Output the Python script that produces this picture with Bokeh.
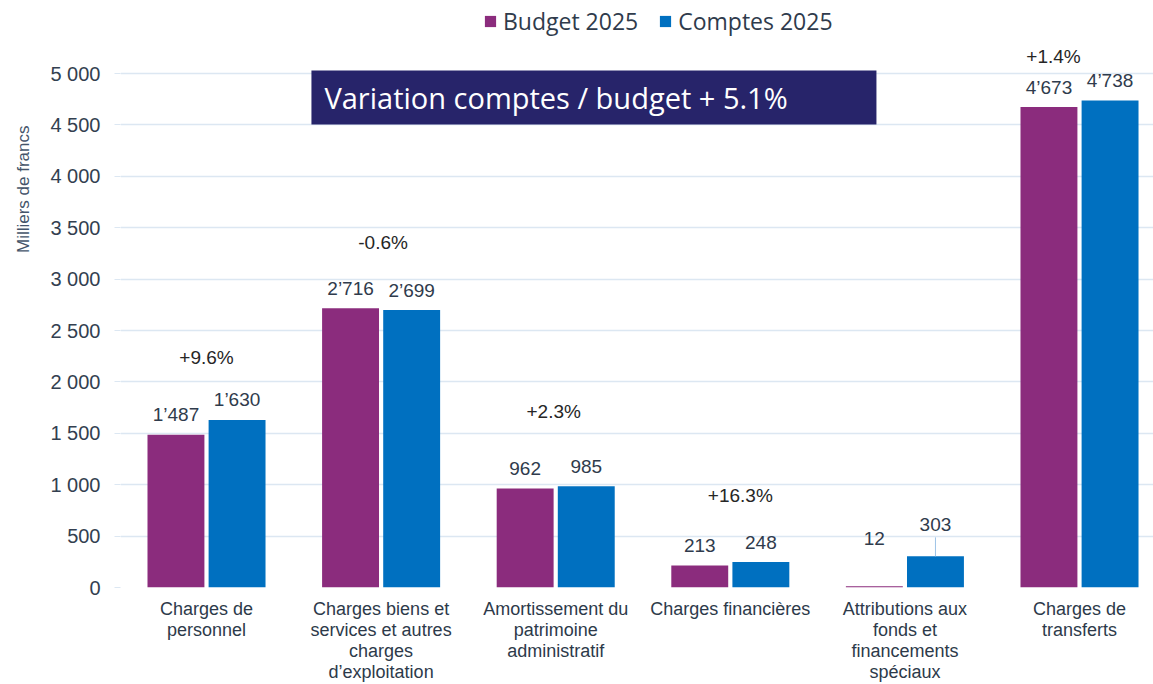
from bokeh.plotting import figure
from bokeh.models import (FixedTicker, Legend, LegendItem, BoxAnnotation, Label,
                          ColumnDataSource, Range1d, Title)
from bokeh.embed import file_html
from bokeh.resources import INLINE
from bokeh.core.properties import value

# ---------------- data ----------------
categories = [
    "Charges de\npersonnel",
    "Charges biens et\nservices et autres\ncharges\nd\u2019exploitation",
    "Amortissement du\npatrimoine\nadministratif",
    "Charges financi\u00e8res",
    "Attributions aux\nfonds et\nfinancements\nsp\u00e9ciaux",
    "Charges de\ntransferts",
]
budget = [1487, 2716, 962, 213, 12, 4673]
comptes = [1630, 2699, 985, 248, 303, 4738]
variations = ["+9.6%", "-0.6%", "+2.3%", "+16.3%", "", "+1.4%"]
series_names = ["Budget 2025", "Comptes 2025"]
y_ticks = [0, 500, 1000, 1500, 2000, 2500, 3000, 3500, 4000, 4500, 5000]
y_tick_labels = ["0", "500", "1 000", "1 500", "2 000", "2 500", "3 000",
                 "3 500", "4 000", "4 500", "5 000"]
title_text = "Variation comptes / budget + 5.1%"
axis_title = "Milliers de francs"

# ---------------- styles / layout ----------------
PURPLE = "#8B2C7D"
BLUE = "#0070C0"
NAVY = "#27246A"
TXT = "#2F3B4C"
GRID = "#DCE7F2"

LEFT, BOTTOM = 120, 97
FRAME_W, FRAME_H = 1033, 587
PX_PER_UNIT = 514 / 5000.0
Y_END = FRAME_H / PX_PER_UNIT
X_START = -0.4926
X_END = X_START + FRAME_W / 174.6
BAR_W = 0.326
OFF = 0.175

idx = list(range(len(categories)))
xb = [i - OFF for i in idx]
xc = [i + OFF for i in idx]

def fmt(v):
    return f"{v:,}".replace(",", "\u2019")

p = figure(frame_width=FRAME_W, frame_height=FRAME_H, output_backend="svg",
           toolbar_location=None,
           x_range=Range1d(X_START, X_END), y_range=Range1d(0, Y_END),
           min_border_left=LEFT, min_border_right=0, min_border_top=0,
           min_border_bottom=BOTTOM)
p.outline_line_color = None
p.background_fill_color = "white"
p.border_fill_color = "white"

rb = p.vbar(x=xb, top=budget, width=BAR_W, fill_color=PURPLE, line_color=None)
rc = p.vbar(x=xc, top=comptes, width=BAR_W, fill_color=BLUE, line_color=None)

# value labels (pixel offsets above the bar tops)
lab_off_b = [-20, -20, -20, -20, -48, -20]
lab_off_c = [-20, -20, -20, -20, -32, -20]
src_b = ColumnDataSource(dict(x=xb, y=budget, t=[fmt(v) for v in budget], dy=lab_off_b))
src_c = ColumnDataSource(dict(x=xc, y=comptes, t=[fmt(v) for v in comptes], dy=lab_off_c))
for s in (src_b, src_c):
    p.text(x="x", y="y", text="t", y_offset="dy", source=s, text_align="center",
           text_baseline="middle", text_font=value("Liberation Sans"),
           text_font_size="19px", text_color=TXT)

# leader line for the small "Attributions" comptes bar
lead_px = 19
p.segment(x0=[xc[4]], y0=[comptes[4]], x1=[xc[4]],
          y1=[comptes[4] + lead_px / PX_PER_UNIT], line_color="#9DC3E6", line_width=1)

# variation labels
pct_dx = [0, 2, -2, 10, 0, -26]
pct_dy = [-62, -66, -75, -67, 0, -44]
pct_src = ColumnDataSource(dict(
    x=[i for i in idx if variations[i]],
    y=[max(budget[i], comptes[i]) for i in idx if variations[i]],
    t=[variations[i] for i in idx if variations[i]],
    dx=[pct_dx[i] for i in idx if variations[i]],
    dy=[pct_dy[i] for i in idx if variations[i]],
))
p.text(x="x", y="y", text="t", x_offset="dx", y_offset="dy", source=pct_src,
       text_align="center", text_baseline="middle",
       text_font=value("Liberation Sans"), text_font_size="19px", text_color="#262626")

# title box
box_l, box_r, box_b, box_t = 0.601, 3.837, 4504, 5029
p.add_layout(BoxAnnotation(left=box_l, right=box_r, bottom=box_b, top=box_t,
                           fill_color=NAVY, fill_alpha=1.0, line_color=None,
                           level="overlay"))
p.add_layout(Label(x=box_l, y=(box_b + box_t) / 2, x_offset=13, text=title_text,
                   text_color="white", text_font="Open Sans", text_font_size="29px",
                   text_baseline="middle", text_align="left", level="overlay"))

# axes
p.yaxis.ticker = FixedTicker(ticks=y_ticks)
p.yaxis.major_label_overrides = {t: l for t, l in zip(y_ticks, y_tick_labels)}
p.yaxis.axis_line_color = None
p.yaxis.major_tick_out = 6
p.yaxis.major_tick_in = 0
p.yaxis.major_tick_line_color = GRID
p.yaxis.minor_tick_line_color = None
p.yaxis.major_label_standoff = 14
p.yaxis.major_label_text_font = "Liberation Sans"
p.yaxis.major_label_text_font_size = "20px"
p.yaxis.major_label_text_color = "#333F50"

# y-axis title in the left panel
p.add_layout(Title(text=axis_title, align="right", offset=125, standoff=26,
                   vertical_align="top",
                   text_font="Liberation Sans", text_font_size="17px",
                   text_font_style="normal", text_color="#44546A"), "left")

p.xaxis.ticker = FixedTicker(ticks=idx)
p.xaxis.major_label_overrides = {i: c for i, c in zip(idx, categories)}
p.xaxis.axis_line_color = None
p.xaxis.major_tick_line_color = None
p.xaxis.minor_tick_line_color = None
p.xaxis.major_label_standoff = 5
p.xaxis.major_label_text_font = "Liberation Sans"
p.xaxis.major_label_text_font_size = "18px"
p.xaxis.major_label_text_line_height = 1.05
p.xaxis.major_label_text_color = "#2D3A4A"
p.xaxis.major_label_text_align = "center"

p.xgrid.grid_line_color = None
p.ygrid.ticker = FixedTicker(ticks=y_ticks)
p.ygrid.grid_line_color = GRID
p.ygrid.grid_line_width = 1.5

legend = Legend(items=[LegendItem(label=series_names[0], renderers=[rb]),
                       LegendItem(label=series_names[1], renderers=[rc])],
                orientation="horizontal", location=(363, 550))
legend.background_fill_alpha = 0
legend.border_line_color = None
legend.padding = 0
legend.margin = 0
legend.spacing = 20
legend.label_standoff = 6
legend.glyph_width = 14
legend.glyph_height = 14
legend.label_text_font = "Open Sans"
legend.label_text_font_size = "23px"
legend.label_text_color = TXT
p.add_layout(legend)

open("out.html", "w").write(file_html(p, INLINE))
